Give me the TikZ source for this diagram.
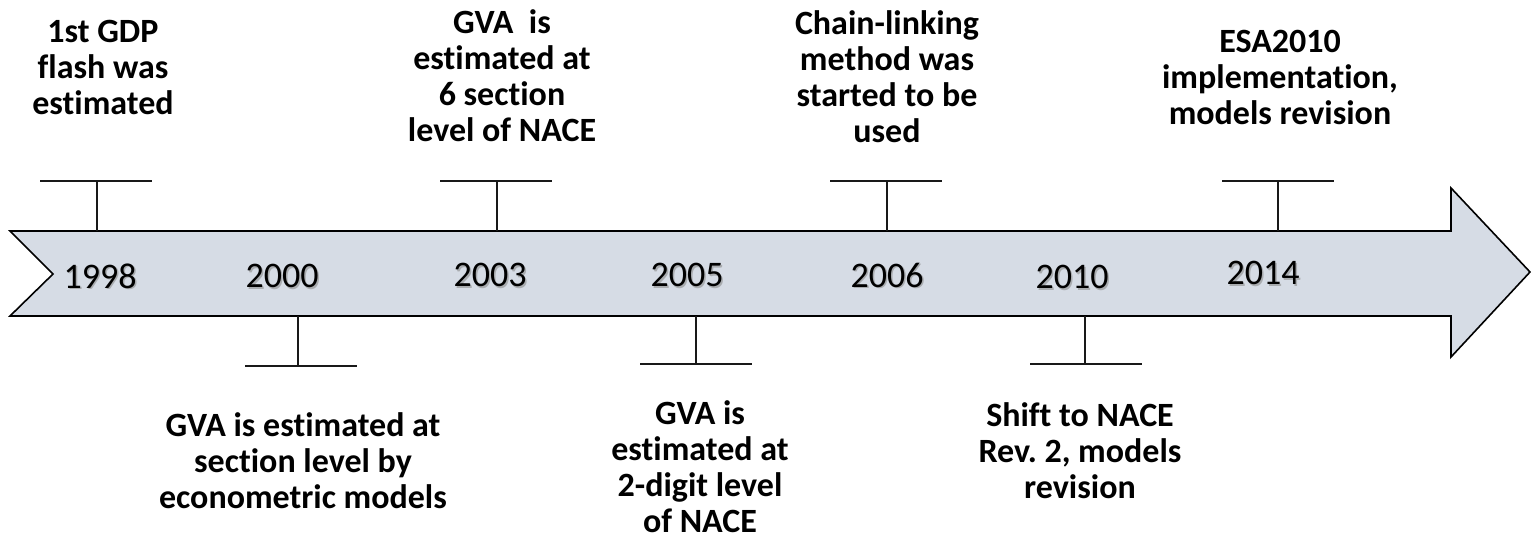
\documentclass[tikz,border=0pt]{standalone}
\usepackage{fontspec}
\setmainfont{Carlito}[Ligatures={NoCommon}]
\frenchspacing
\definecolor{arrowfill}{HTML}{D6DCE5}
\begin{document}
\begin{tikzpicture}[x=0.5pt,y=-0.5pt,
  lbl/.style={align=center,inner sep=0pt,font=\bfseries\fontsize{17}{18}\selectfont},
  yr/.style={inner sep=0pt,font=\fontsize{18}{20}\selectfont},
  yrshadow/.style={inner sep=0pt,font=\fontsize{18}{20}\selectfont,text=black!45,opacity=0.6},
  tick/.style={line width=0.8pt,black!90}]
\useasboundingbox (0,0) rectangle (1531,541);
% arrow
\draw[fill=arrowfill,line width=0.8pt,line join=miter]
  (10,231) -- (1451,231) -- (1451,188) -- (1530,272) -- (1451,357) -- (1451,316) -- (10,316) -- (53,274) -- cycle;
% years
\foreach \x/\y/\t in {100/276/1998,282/276/2000,490/275/2003,687/275/2005,887/275/2006,1072/277/2010,1263/273/2014}{
  \node[yrshadow] at (\x+1.6,\y+1.6) {\t};
  \node[yr] (y\t) at (\x,\y) {\t};
}
% ticks above
\foreach \n/\x/\h in {a/97/96,c/497/496,e/887/886,g/1278/1278}{
  \coordinate (\n base) at (\x,231);
  \coordinate (\n top) at (\x,181);
  \coordinate (\n L) at (\h-56,181);
  \coordinate (\n R) at (\h+56,181);
  \draw[tick] (\n base) -- (\n top);
  \draw[tick] (\n L) -- (\n R);
}
% ticks below
\foreach \n/\x/\h/\yy in {b/298/301/366,d/696/696/364,f/1085/1086/364}{
  \coordinate (\n base) at (\x,316);
  \coordinate (\n bot) at (\x,\yy);
  \coordinate (\n L) at (\h-56,\yy);
  \coordinate (\n R) at (\h+56,\yy);
  \draw[tick] (\n base) -- (\n bot);
  \draw[tick] (\n L) -- (\n R);
}
% labels
\node[lbl] (l1998) at (103,67) {1st GDP\\flash was\\estimated};
\node[lbl] (l2003) at (502,76) {GVA\ \ is\\estimated at\\6 section\\level of NACE};
\node[lbl] (l2006) at (887,77) {Chain-linking\\method was\\started to be\\used};
\node[lbl] (l2014) at (1280,77) {ESA2010\\implementation,\\models revision};
\node[lbl] (l2000) at (303,461) {GVA is estimated at\\section level by\\econometric models};
\node[lbl] (l2005) at (700,467) {GVA is\\estimated at\\2-digit level\\of NACE};
\node[lbl] (l2010) at (1080,451) {Shift to NACE\\Rev. 2, models\\revision};
\end{tikzpicture}
\end{document}
